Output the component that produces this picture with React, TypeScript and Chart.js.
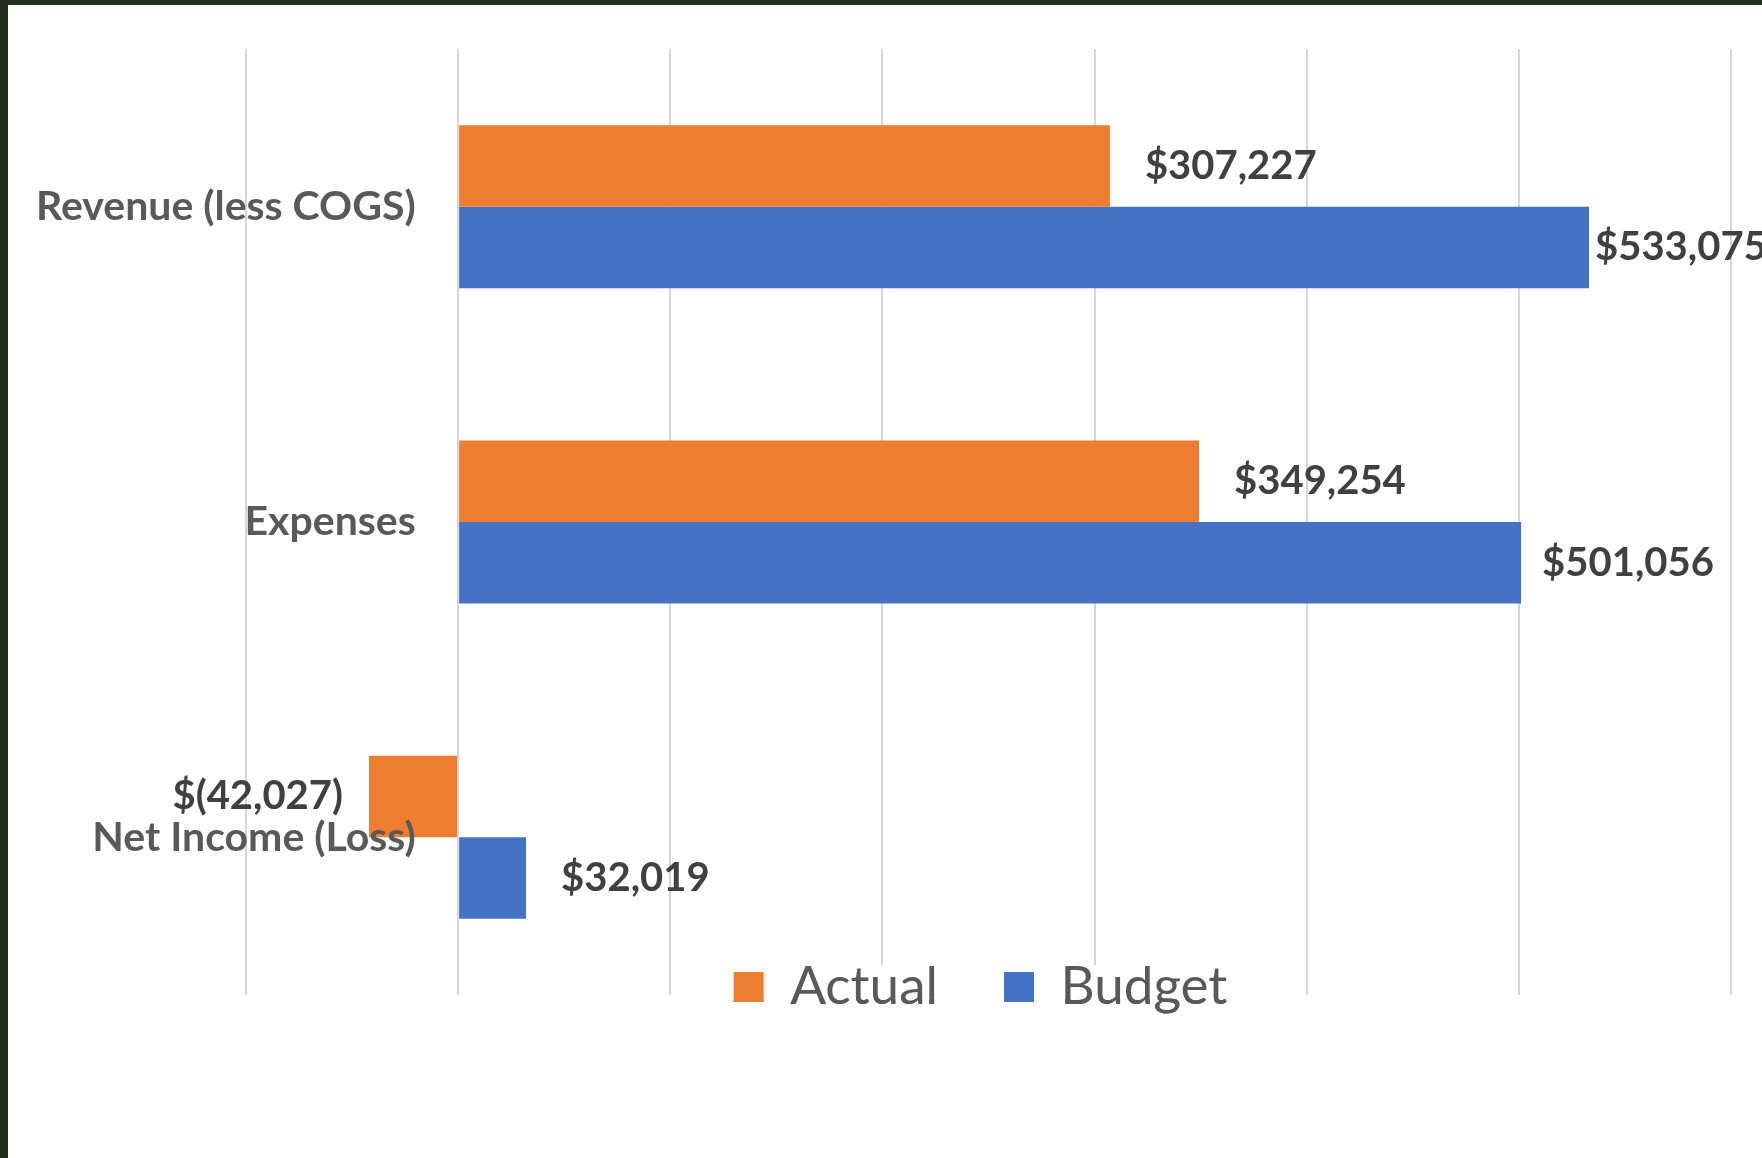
import React, { useEffect, useRef } from "react";
import { Chart, registerables } from "chart.js";

Chart.register(...registerables);

// ---- data ----
const categories = ["Revenue (less COGS)", "Expenses", "Net Income (Loss)"];
const seriesNames = ["Actual", "Budget"];
const actualValues = [307227, 349254, -42027];
const budgetValues = [533075, 501056, 32019];
const xGridValues = [-100000, 0, 100000, 200000, 300000, 400000, 500000, 600000];

// ---- styles ----
const ORANGE = "#ED7D31";
const BLUE = "#4472C4";
const FONT = "Lato, 'Open Sans', sans-serif";
const LEGEND_FONT_SIZE = 53;
// where the category labels are anchored on the value axis (just left of zero)
const Y_LABEL_ANCHOR = -20000;

const formatMoney = (v: number) => {
  const s = Math.abs(v).toLocaleString("en-US");
  return v < 0 ? `$(${s})` : `$${s}`;
};

const valueLabelPlugin = {
  id: "valueLabels",
  afterDatasetsDraw(chart: any, _args: any, opts: any) {
    const ctx = chart.ctx;
    ctx.save();
    ctx.font = opts.font;
    ctx.fillStyle = opts.color;
    ctx.textBaseline = "middle";
    chart.data.datasets.forEach((ds: any, di: number) => {
      const meta = chart.getDatasetMeta(di);
      meta.data.forEach((bar: any, i: number) => {
        const v = ds.data[i] as number;
        const { x, y } = bar.getProps(["x", "y"], true);
        const gap = opts.gaps[di][i];
        if (v >= 0) {
          ctx.textAlign = "left";
          ctx.fillText(formatMoney(v), x + gap, y);
        } else {
          ctx.textAlign = "right";
          ctx.fillText(formatMoney(v), x - gap, y);
        }
      });
    });
    ctx.restore();
  },
};

const legendPlacePlugin = {
  id: "legendPlace",
  afterLayout(chart: any, _args: any, opts: any) {
    const lg = chart.legend;
    if (!lg) return;
    const pad = lg.options.labels.padding;
    const h = lg.bottom - lg.top;
    const top = chart.chartArea.bottom + opts.midOffset - pad - LEGEND_FONT_SIZE / 2;
    lg.top = top;
    lg.bottom = top + h;
    lg.left += opts.dx;
    lg.right += opts.dx;
  },
  beforeDatasetsDraw(chart: any, _args: any, opts: any) {
    const lg = chart.legend;
    if (!lg || !lg.legendHitBoxes || !lg.legendHitBoxes.length) return;
    const boxes = lg.legendHitBoxes;
    const first = boxes[0];
    const last = boxes[boxes.length - 1];
    const ctx = chart.ctx;
    ctx.save();
    ctx.fillStyle = "#ffffff";
    const x0 = first.left - opts.bgPadX;
    const x1 = last.left + last.width + opts.bgPadX;
    const y0 = chart.chartArea.bottom - opts.bgTop;
    ctx.fillRect(x0, y0, x1 - x0, chart.chartArea.bottom - y0 + 4);
    ctx.restore();
    lg.draw();
  },
};

export default function App() {
  const canvasRef = useRef<HTMLCanvasElement | null>(null);

  useEffect(() => {
    document.body.style.margin = "0";
    const canvas = canvasRef.current;
    if (!canvas) return;
    const chart = new Chart(canvas, {
      type: "bar",
      data: {
        labels: categories,
        datasets: [
          {
            label: seriesNames[0],
            data: actualValues,
            backgroundColor: ORANGE,
            borderWidth: 0,
            categoryPercentage: 0.517,
            barPercentage: 1,
          },
          {
            label: seriesNames[1],
            data: budgetValues,
            backgroundColor: BLUE,
            borderWidth: 0,
            categoryPercentage: 0.517,
            barPercentage: 1,
          },
        ],
      },
      options: {
        indexAxis: "y",
        responsive: false,
        animation: false,
        layout: { padding: { left: 238, right: 31, top: 44, bottom: 34 } },
        scales: {
          x: {
            type: "linear",
            min: xGridValues[0],
            max: xGridValues[xGridValues.length - 1],
            ticks: { display: false, stepSize: xGridValues[1] - xGridValues[0] },
            grid: { color: "#d6d6d6", lineWidth: 2, drawTicks: false },
            border: { display: false },
          },
          y: {
            type: "category",
            position: { x: Y_LABEL_ANCHOR },
            grid: { display: false },
            border: { display: false },
            ticks: {
              font: { family: FONT, size: 41, weight: "bold" },
              color: "#595959",
              padding: 0,
              z: 1,
            },
          },
        },
        plugins: {
          legend: {
            position: "bottom",
            labels: {
              font: { family: FONT, size: LEGEND_FONT_SIZE },
              color: "#595959",
              boxWidth: 30,
              boxHeight: 30,
              padding: 66,
            },
          },
          tooltip: { enabled: false },
          valueLabels: {
            font: `bold 40px ${FONT}`,
            color: "#404040",
            gaps: [
              [35, 35, 26],
              [6, 21, 35],
            ],
          },
          legendPlace: { midOffset: -8, dx: -8, bgPadX: 20, bgTop: 30 },
        } as any,
      },
      plugins: [valueLabelPlugin, legendPlacePlugin],
    } as any);
    return () => chart.destroy();
  }, []);

  return (
    <div
      style={{
        position: "absolute",
        left: 0,
        top: 0,
        width: 1762,
        height: 1158,
        background: "#222e1f",
        overflow: "hidden",
      }}
    >
      <canvas
        ref={canvasRef}
        width={1754}
        height={1153}
        style={{ position: "absolute", left: 8, top: 5, background: "#ffffff", display: "block" }}
      />
    </div>
  );
}
